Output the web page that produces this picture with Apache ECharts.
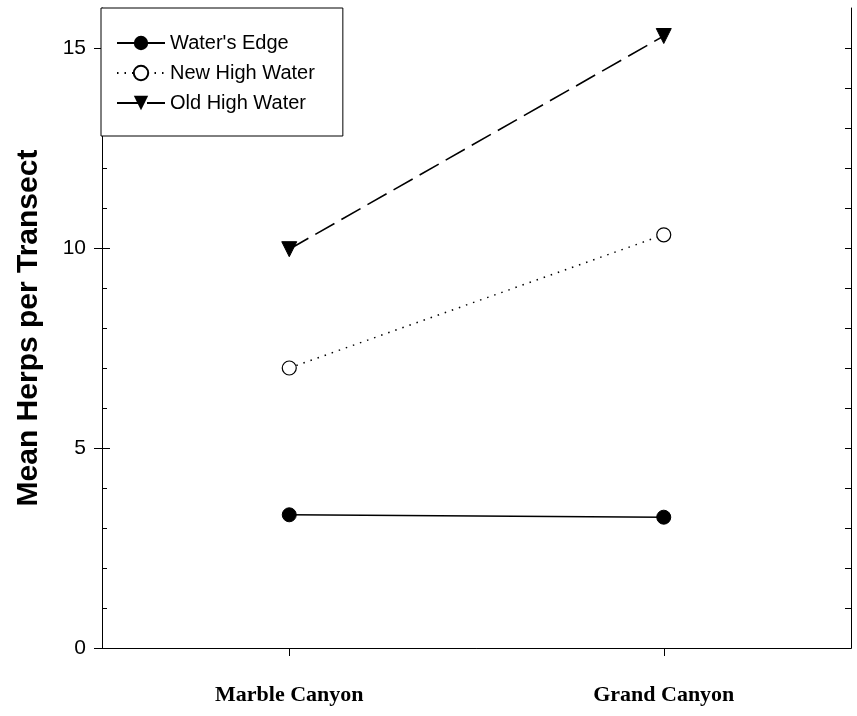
<!DOCTYPE html>
<html>
<head>
<meta charset="utf-8">
<script src="https://cdn.jsdelivr.net/npm/echarts@6/dist/echarts.min.js"></script>
<style>
  html, body { margin: 0; padding: 0; background: #fff; }
  #chart { width: 857px; height: 716px; }
</style>
</head>
<body>
<div id="chart"></div>
<script>
// data
var categories = ['Marble Canyon', 'Grand Canyon'];
var watersEdge = [3.33, 3.27];
var newHighWater = [7.0, 10.33];
var oldHighWater = [9.97, 15.3];

var yLabelTicks = [0, 5, 10, 15];
var unitTicks = [1, 2, 3, 4, 5, 6, 7, 8, 9, 10, 11, 12, 13, 14, 15];
var majorInner = [5, 10, 15];

var black = '#000';
var sans = 'Liberation Sans, Arial, sans-serif';

var chart = echarts.init(document.getElementById('chart'));

// all y axes share one scale, they only differ in ticks
function yBase(extra) {
  var a = {
    type: 'value', min: 0, max: 16, gridIndex: 0,
    splitLine: { show: false },
    axisLine: { show: false },
    axisLabel: { show: false },
    axisTick: { show: false }
  };
  for (var k in extra) a[k] = extra[k];
  return a;
}

var option = {
  animation: false,
  backgroundColor: '#fff',
  grid: { left: 102, right: 6, top: 8, bottom: 68 },
  legend: {
    orient: 'vertical',
    left: 101, top: 8,
    padding: [25, 28, 23, 15],
    itemGap: 10,
    itemWidth: 48, itemHeight: 18,
    backgroundColor: '#fff',
    borderColor: black, borderWidth: 1,
    textStyle: { fontFamily: sans, fontSize: 20, color: black },
    data: ["Water's Edge", 'New High Water', 'Old High Water']
  },
  xAxis: [{
    type: 'category', position: 'bottom', data: categories,
    boundaryGap: true,
    axisLine: { show: true, lineStyle: { color: black, width: 1 } },
    axisTick: { show: true, alignWithLabel: true, length: 8, lineStyle: { color: black } },
    axisLabel: {
      margin: 36, color: black, fontSize: 22, fontWeight: 'bold',
      fontFamily: 'Liberation Serif, Times New Roman, serif'
    }
  }, {
    type: 'category', position: 'top', data: categories,
    axisLine: { show: true, lineStyle: { color: black, width: 1 } },
    axisTick: { show: false }, axisLabel: { show: false }
  }],
  yAxis: [
    yBase({
      position: 'left',
      name: 'Mean Herps per Transect',
      nameLocation: 'middle', nameGap: 58,
      nameTextStyle: { fontFamily: sans, fontSize: 30, fontWeight: 'bold', color: black },
      axisLine: { show: true, lineStyle: { color: black, width: 1 } },
      axisTick: { show: true, length: 8, customValues: yLabelTicks, lineStyle: { color: black } },
      axisLabel: { show: true, customValues: yLabelTicks, margin: 16, fontSize: 21, fontFamily: sans, color: black }
    }),
    yBase({
      position: 'left',
      axisTick: { show: true, inside: true, length: 5, customValues: unitTicks, lineStyle: { color: black } }
    }),
    yBase({
      position: 'left',
      axisTick: { show: true, inside: true, length: 8, customValues: majorInner, lineStyle: { color: black } }
    }),
    yBase({
      position: 'right',
      axisLine: { show: true, lineStyle: { color: black, width: 1 } },
      axisTick: { show: true, inside: true, length: 6, customValues: unitTicks, lineStyle: { color: black } }
    })
  ],
  series: [{
    name: "Water's Edge", type: 'line', data: watersEdge,
    symbol: 'circle', symbolSize: 14,
    itemStyle: { color: black, borderColor: black },
    lineStyle: { color: black, width: 1.5, type: 'solid' }
  }, {
    name: 'New High Water', type: 'line', data: newHighWater,
    symbol: 'circle', symbolSize: 14,
    itemStyle: { color: '#fff', borderColor: black, borderWidth: 1.2 },
    lineStyle: { color: black, width: 1.5, type: [1.5, 6] }
  }, {
    name: 'Old High Water', type: 'line', data: oldHighWater,
    symbol: 'triangle', symbolSize: 15, symbolRotate: 180,
    itemStyle: { color: black, borderColor: black },
    lineStyle: { color: black, width: 1.6, type: [22, 8] }
  }]
};

chart.setOption(option);
</script>
</body>
</html>
